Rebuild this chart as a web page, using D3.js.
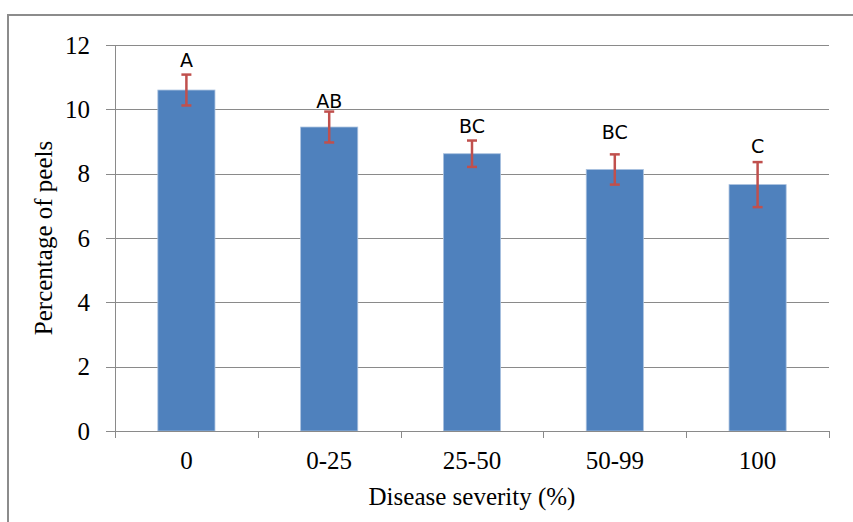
<!DOCTYPE html>
<html lang="en">
<head>
<meta charset="UTF-8">
<title>Percentage of peels by disease severity</title>
<style>
  body { margin: 0; background: #fff; }
  svg  { display: block; }
  .tick-label { font: 25px "Liberation Serif", "Times New Roman", serif; fill: #000; }
  .axis-title { font: 25px "Liberation Serif", "Times New Roman", serif; fill: #000; }
  .letter     { font: 19px "DejaVu Sans", sans-serif; fill: #000; text-anchor: middle; }
</style>
</head>
<body>
<svg id="chart" width="853" height="522"></svg>

<script src="https://d3js.org/d3.v7.min.js"></script>
<script>
/* ---------------- Data ---------------- */
const categories = ['0', '0-25', '25-50', '50-99', '100'];
const values     = [10.6, 9.45, 8.62, 8.13, 7.66];
const errors     = [0.48, 0.48, 0.41, 0.47, 0.70];
const letters    = ['A', 'AB', 'BC', 'BC', 'C'];
const letterAt   = [11.32, 10.04, 9.26, 9.08, 8.64];   // baseline of letters, in data units
const yTicks     = [0, 2, 4, 6, 8, 10, 12];

/* ---------------- Layout ---------------- */
const plot = { left: 115, right: 829, top: 45, bottom: 431 };
const svg  = d3.select('#chart');

// outer frame (top and left edges visible)
svg.append('path')
  .attr('d', `M8,522 V15 H853`)
  .attr('fill', 'none')
  .attr('stroke', '#8c8c8c')
  .attr('stroke-width', 2);

const x = d3.scaleBand().domain(categories).range([plot.left, plot.right]).paddingInner(0.6).paddingOuter(0.3);
const y = d3.scaleLinear().domain([0, 12]).range([plot.bottom, plot.top]);

/* ---------------- Grid + y axis ---------------- */
const grid = svg.append('g');
grid.selectAll('line')
  .data(yTicks)
  .enter().append('line')
    .attr('x1', plot.left - 9).attr('x2', plot.right)
    .attr('y1', d => Math.round(y(d)) + 0.5).attr('y2', d => Math.round(y(d)) + 0.5)
    .attr('stroke', '#8a8a8a').attr('stroke-width', 1);

svg.append('g').selectAll('text')
  .data(yTicks)
  .enter().append('text')
    .attr('class', 'tick-label')
    .attr('x', 90)
    .attr('y', d => y(d))
    .attr('dy', '0.34em')
    .attr('text-anchor', 'end')
    .text(d => d);

// y axis line
svg.append('line')
  .attr('x1', plot.left + 0.5).attr('x2', plot.left + 0.5)
  .attr('y1', plot.top).attr('y2', plot.bottom)
  .attr('stroke', '#8a8a8a');

/* ---------------- Bars ---------------- */
svg.append('g').selectAll('rect')
  .data(values)
  .enter().append('rect')
    .attr('x', (d, i) => x(categories[i]))
    .attr('y', d => y(d))
    .attr('width', x.bandwidth())
    .attr('height', d => y(0) - y(d))
    .attr('fill', '#4f81bd')
    .attr('stroke', '#a9c1df')
    .attr('stroke-width', 0.8);

/* ---------------- x axis ---------------- */
svg.append('line')
  .attr('x1', plot.left).attr('x2', plot.right)
  .attr('y1', plot.bottom + 0.5).attr('y2', plot.bottom + 0.5)
  .attr('stroke', '#8a8a8a');

const step = (plot.right - plot.left) / categories.length;
svg.append('g').selectAll('line')
  .data(d3.range(categories.length + 1))
  .enter().append('line')
    .attr('x1', i => Math.round(plot.left + i * step) + 0.5)
    .attr('x2', i => Math.round(plot.left + i * step) + 0.5)
    .attr('y1', plot.bottom).attr('y2', plot.bottom + 7)
    .attr('stroke', '#8a8a8a');

svg.append('g').selectAll('text')
  .data(categories)
  .enter().append('text')
    .attr('class', 'tick-label')
    .attr('x', d => x(d) + x.bandwidth() / 2)
    .attr('y', 469)
    .attr('text-anchor', 'middle')
    .text(d => d);

/* ---------------- Error bars ---------------- */
const err = svg.append('g').attr('stroke', '#c0504d').attr('stroke-width', 2.5);
values.forEach((v, i) => {
  const cx = x(categories[i]) + x.bandwidth() / 2;
  const hi = y(v + errors[i]), lo = y(v - errors[i]);
  err.append('line').attr('x1', cx).attr('x2', cx).attr('y1', hi).attr('y2', lo);
  err.append('line').attr('x1', cx - 5).attr('x2', cx + 5).attr('y1', hi).attr('y2', hi);
  err.append('line').attr('x1', cx - 5).attr('x2', cx + 5).attr('y1', lo).attr('y2', lo);
});

/* ---------------- Letters ---------------- */
svg.append('g').selectAll('text')
  .data(letters)
  .enter().append('text')
    .attr('class', 'letter')
    .attr('x', (d, i) => x(categories[i]) + x.bandwidth() / 2)
    .attr('y', (d, i) => y(letterAt[i]))
    .text(d => d);

/* ---------------- Axis titles ---------------- */
svg.append('text')
  .attr('class', 'axis-title')
  .attr('x', (plot.left + plot.right) / 2)
  .attr('y', 505)
  .attr('text-anchor', 'middle')
  .text('Disease severity (%)');

svg.append('text')
  .attr('class', 'axis-title')
  .attr('transform', `translate(52, ${(plot.top + plot.bottom) / 2}) rotate(-90)`)
  .attr('text-anchor', 'middle')
  .text('Percentage of peels');
</script>
</body>
</html>
